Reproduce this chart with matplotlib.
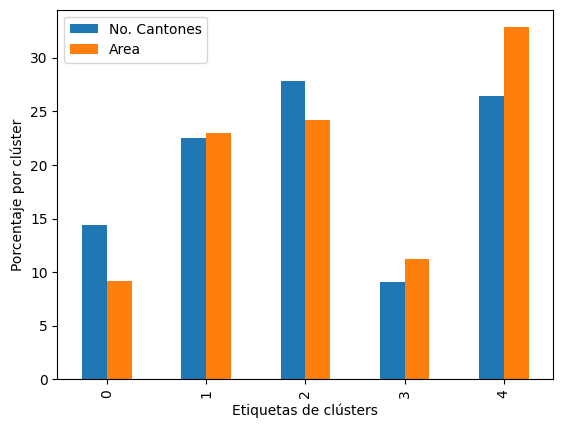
import matplotlib
matplotlib.use("Agg")
import matplotlib.pyplot as plt
import numpy as np

clusters = ["0", "1", "2", "3", "4"]
cantones = [14.38, 22.49, 27.80, 9.07, 26.40]
area = [9.16, 22.95, 24.17, 11.20, 32.83]

fig, ax = plt.subplots(figsize=(6.4, 4.8), dpi=100)
x = np.arange(len(clusters))
w = 0.25
ax.bar(x - w/2, cantones, width=w, color="#1f77b4", label="No. Cantones")
ax.bar(x + w/2, area, width=w, color="#ff7f0e", label="Area")
ax.set_xticks(x)
ax.set_xticklabels(clusters, rotation=90)
ax.set_xlim(-0.5, len(clusters) - 0.5)
ax.set_xlabel("Etiquetas de clústers")
ax.set_ylabel("Porcentaje por clúster")
ax.legend(loc="upper left")
fig.savefig("out.png", bbox_inches="tight")
